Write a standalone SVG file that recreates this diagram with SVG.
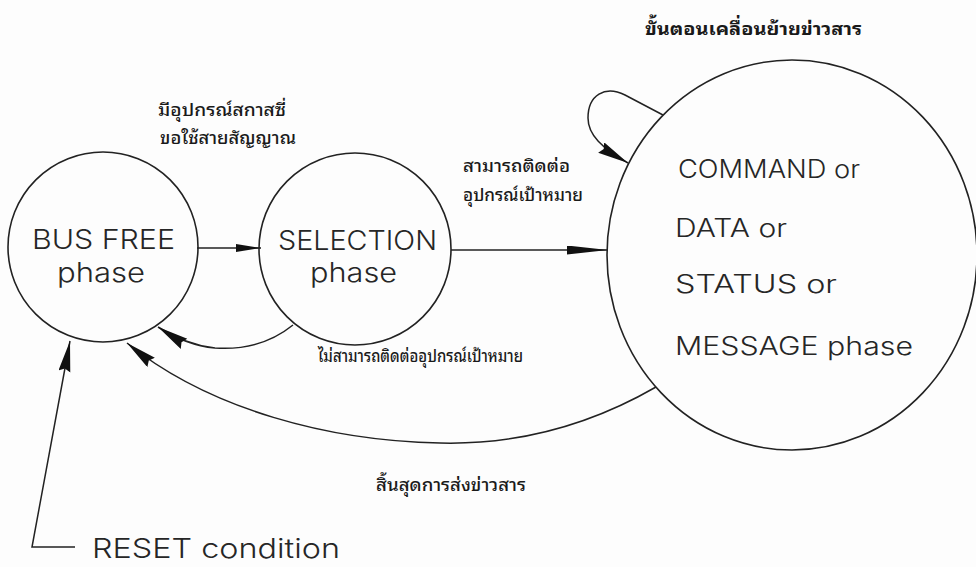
<svg xmlns="http://www.w3.org/2000/svg" width="976" height="567" viewBox="0 0 976 567">
  <style>
    .bg { fill: #fdfdfd; }
    .node { fill: none; stroke: #222; stroke-width: 1.6; }
    .edge { fill: none; stroke: #222; stroke-width: 1.5; }
    .lbl { font-family: "Inter", "Liberation Sans", "DejaVu Sans", sans-serif; font-weight: 300; fill: #262626; }
    .th { font-family: "Noto Sans Thai Looped", "Noto Sans Thai", "Noto Sans Thai UI", "Noto Sans", "DejaVu Sans", sans-serif; font-weight: 500; fill: #1a1a1a; font-size: 17px; }
    .th.title { font-weight: 700; font-size: 18px; }
  </style>
  <defs>
    <marker id="arrow" markerUnits="userSpaceOnUse" markerWidth="32" markerHeight="14" refX="31" refY="6" orient="auto">
      <path d="M0,0 L31,6 L0,12 L3,6 z" fill="#111"/>
    </marker>
    <marker id="arrowThin" markerUnits="userSpaceOnUse" markerWidth="42" markerHeight="10" refX="41" refY="4.5" orient="auto">
      <path d="M0,0 L41,4.5 L0,9 z" fill="#111"/>
    </marker>
    <marker id="arrowShort" markerUnits="userSpaceOnUse" markerWidth="26" markerHeight="9" refX="25" refY="4" orient="auto">
      <path d="M0,0 L25,4 L0,8 z" fill="#111"/>
    </marker>
  </defs>

  <rect class="bg" x="0" y="0" width="976" height="567"/>

  <!-- transitions -->
  <g id="connectors">
    <path class="edge" d="M197,248 L261,248" marker-end="url(#arrowShort)"/>
    <path class="edge" d="M451,250 L608,250" marker-end="url(#arrowThin)"/>
    <path class="edge" d="M663,115 L625,95 C605,85 588,95 588,118 C588,135 602,148 628,163" marker-end="url(#arrow)"/>
    <path class="edge" d="M293,325 C272,342 245,350 215,348 C195,346 175,338 158,327" marker-end="url(#arrow)"/>
    <path class="edge" d="M656,387 C590,425 520,445 440,443 C330,441 210,410 127,343" marker-end="url(#arrow)"/>
    <path class="edge" d="M75,547 L32,547 L70,341" marker-end="url(#arrow)"/>
  </g>

  <!-- states -->
  <g id="bus-free">
    <circle class="node" cx="103" cy="247" r="95"/>
    <text class="lbl" x="32" y="249" font-size="27" textLength="143" lengthAdjust="spacingAndGlyphs">BUS FREE</text>
    <text class="lbl" x="57" y="282" font-size="27" textLength="88" lengthAdjust="spacingAndGlyphs">phase</text>
  </g>

  <g id="selection">
    <circle class="node" cx="355" cy="249" r="96"/>
    <text class="lbl" x="278" y="250" font-size="27" textLength="159" lengthAdjust="spacingAndGlyphs">SELECTION</text>
    <text class="lbl" x="310" y="282" font-size="27" textLength="87" lengthAdjust="spacingAndGlyphs">phase</text>
  </g>

  <g id="transfer">
    <ellipse class="node" cx="792" cy="255" rx="185" ry="195"/>
    <text class="lbl" x="678" y="178" font-size="25" textLength="182" lengthAdjust="spacingAndGlyphs">COMMAND or</text>
    <text class="lbl" x="675" y="237" font-size="25" textLength="112" lengthAdjust="spacingAndGlyphs">DATA or</text>
    <text class="lbl" x="675" y="293" font-size="25" textLength="162" lengthAdjust="spacingAndGlyphs">STATUS or</text>
    <text class="lbl" x="675" y="355" font-size="25" textLength="238" lengthAdjust="spacingAndGlyphs">MESSAGE phase</text>
  </g>

  <g id="reset">
    <text class="lbl" x="92" y="558" font-size="27" textLength="248" lengthAdjust="spacingAndGlyphs">RESET condition</text>
  </g>

  <!-- transition captions -->
  <g id="captions">
    <text class="th title" x="645" y="35" textLength="217" lengthAdjust="spacingAndGlyphs">ขั้นตอนเคลื่อนย้ายข่าวสาร</text>
    <text class="th" x="158" y="116" textLength="128" lengthAdjust="spacingAndGlyphs">มีอุปกรณ์สกาสซี่</text>
    <text class="th" x="160" y="144" textLength="136" lengthAdjust="spacingAndGlyphs">ขอใช้สายสัญญาณ</text>
    <text class="th" x="463" y="172" textLength="107" lengthAdjust="spacingAndGlyphs">สามารถติดต่อ</text>
    <text class="th" x="463" y="201" textLength="120" lengthAdjust="spacingAndGlyphs">อุปกรณ์เป้าหมาย</text>
    <text class="th" x="318" y="362" textLength="205" lengthAdjust="spacingAndGlyphs">ไม่สามารถติดต่ออุปกรณ์เป้าหมาย</text>
    <text class="th" x="376" y="491" textLength="150" lengthAdjust="spacingAndGlyphs">สิ้นสุดการส่งข่าวสาร</text>
  </g>
</svg>
